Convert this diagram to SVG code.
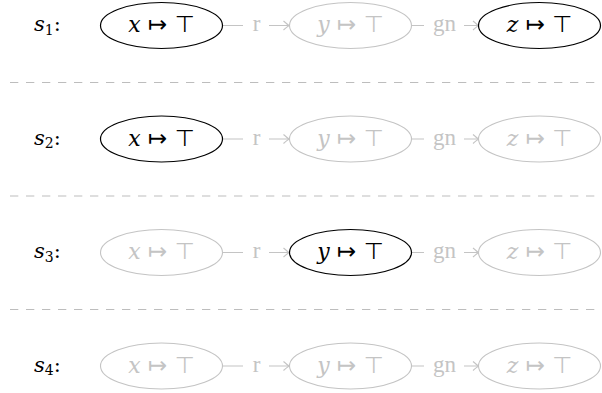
<svg xmlns="http://www.w3.org/2000/svg" width="602" height="393" viewBox="0 0 602 393">
<style>
.bg{fill:#fff}
.on{fill:#fff;stroke:#000;stroke-width:1.2}
.off{fill:#fff;stroke:#c4c4c4;stroke-width:1.1}
.t{font-family:"DejaVu Serif","Liberation Serif",serif;font-size:22px;text-anchor:middle}
.ton{fill:#000}
.toff{fill:#c4c4c4}
.sym{font-family:"DejaVu Sans","Noto Sans",sans-serif;font-style:normal;font-size:23px}
.it{font-style:italic}
.lab{font-family:"DejaVu Serif","Liberation Serif",serif;font-size:21px;fill:#000}
.edge{fill:none;stroke:#c4c4c4;stroke-width:1.1}
.el{font-family:"Liberation Serif","DejaVu Serif",serif;font-size:23px;fill:#c4c4c4;text-anchor:middle}
.dash{stroke:#bdbdbd;stroke-width:1.1;stroke-dasharray:8.3 7.7}
</style>
<defs>
<marker id="ar" viewBox="-7 -6 8 12" refX="0" refY="0" markerWidth="8" markerHeight="12" markerUnits="userSpaceOnUse" orient="auto">
<path d="M-5.5,-4.5 Q-1.5,-1 0,0 Q-1.5,1 -5.5,4.5" fill="none" stroke="#c4c4c4" stroke-width="1.1"/>
</marker>
</defs>
<rect class="bg" width="602" height="393"/>
<g id="separators">
<line class="dash" x1="10" y1="82.5" x2="602" y2="82.5"/>
<line class="dash" x1="10" y1="196" x2="602" y2="196"/>
<line class="dash" x1="10" y1="309.5" x2="602" y2="309.5"/>
</g>
<g id="labels">
<text class="lab" x="34" y="31"><tspan font-style="italic">s</tspan><tspan font-size="14" dy="3.5">1</tspan><tspan dy="-3.5">:</tspan></text>
<text class="lab" x="34" y="144.5"><tspan font-style="italic">s</tspan><tspan font-size="14" dy="3.5">2</tspan><tspan dy="-3.5">:</tspan></text>
<text class="lab" x="34" y="258"><tspan font-style="italic">s</tspan><tspan font-size="14" dy="3.5">3</tspan><tspan dy="-3.5">:</tspan></text>
<text class="lab" x="34" y="371.5"><tspan font-style="italic">s</tspan><tspan font-size="14" dy="3.5">4</tspan><tspan dy="-3.5">:</tspan></text>
</g>
<g id="connectors">
<path class="edge" d="M222.5,25.5 H243 M269,25.5 H289" marker-end="url(#ar)"/>
<path class="edge" d="M411.5,25.5 H424 M464,25.5 H478.5" marker-end="url(#ar)"/>
<path class="edge" d="M222.5,139 H243 M269,139 H289" marker-end="url(#ar)"/>
<path class="edge" d="M411.5,139 H424 M464,139 H478.5" marker-end="url(#ar)"/>
<path class="edge" d="M222.5,252.5 H243 M269,252.5 H289" marker-end="url(#ar)"/>
<path class="edge" d="M411.5,252.5 H424 M464,252.5 H478.5" marker-end="url(#ar)"/>
<path class="edge" d="M222.5,366 H243 M269,366 H289" marker-end="url(#ar)"/>
<path class="edge" d="M411.5,366 H424 M464,366 H478.5" marker-end="url(#ar)"/>
<text class="el" x="256.5" y="31">r</text>
<text class="el" x="444.5" y="31">gn</text>
<text class="el" x="256.5" y="144.5">r</text>
<text class="el" x="444.5" y="144.5">gn</text>
<text class="el" x="256.5" y="258">r</text>
<text class="el" x="444.5" y="258">gn</text>
<text class="el" x="256.5" y="371.5">r</text>
<text class="el" x="444.5" y="371.5">gn</text>
</g>
<g id="s1-x">
<ellipse class="on" cx="161.5" cy="25.5" rx="61" ry="23"/>
<text class="t ton" x="161.5" y="32"><tspan class="it">x</tspan><tspan class="sym"> ↦ ⊤</tspan></text>
</g>
<g id="s1-y">
<ellipse class="off" cx="350.5" cy="25.5" rx="61" ry="23"/>
<text class="t toff" x="350.5" y="32"><tspan class="it">y</tspan><tspan class="sym"> ↦ ⊤</tspan></text>
</g>
<g id="s1-z">
<ellipse class="on" cx="539.5" cy="25.5" rx="61" ry="23"/>
<text class="t ton" x="539.5" y="32"><tspan class="it">z</tspan><tspan class="sym"> ↦ ⊤</tspan></text>
</g>
<g id="s2-x">
<ellipse class="on" cx="161.5" cy="139" rx="61" ry="23"/>
<text class="t ton" x="161.5" y="145.5"><tspan class="it">x</tspan><tspan class="sym"> ↦ ⊤</tspan></text>
</g>
<g id="s2-y">
<ellipse class="off" cx="350.5" cy="139" rx="61" ry="23"/>
<text class="t toff" x="350.5" y="145.5"><tspan class="it">y</tspan><tspan class="sym"> ↦ ⊤</tspan></text>
</g>
<g id="s2-z">
<ellipse class="off" cx="539.5" cy="139" rx="61" ry="23"/>
<text class="t toff" x="539.5" y="145.5"><tspan class="it">z</tspan><tspan class="sym"> ↦ ⊤</tspan></text>
</g>
<g id="s3-x">
<ellipse class="off" cx="161.5" cy="252.5" rx="61" ry="23"/>
<text class="t toff" x="161.5" y="259"><tspan class="it">x</tspan><tspan class="sym"> ↦ ⊤</tspan></text>
</g>
<g id="s3-y">
<ellipse class="on" cx="350.5" cy="252.5" rx="61" ry="23"/>
<text class="t ton" x="350.5" y="259"><tspan class="it">y</tspan><tspan class="sym"> ↦ ⊤</tspan></text>
</g>
<g id="s3-z">
<ellipse class="off" cx="539.5" cy="252.5" rx="61" ry="23"/>
<text class="t toff" x="539.5" y="259"><tspan class="it">z</tspan><tspan class="sym"> ↦ ⊤</tspan></text>
</g>
<g id="s4-x">
<ellipse class="off" cx="161.5" cy="366" rx="61" ry="23"/>
<text class="t toff" x="161.5" y="372.5"><tspan class="it">x</tspan><tspan class="sym"> ↦ ⊤</tspan></text>
</g>
<g id="s4-y">
<ellipse class="off" cx="350.5" cy="366" rx="61" ry="23"/>
<text class="t toff" x="350.5" y="372.5"><tspan class="it">y</tspan><tspan class="sym"> ↦ ⊤</tspan></text>
</g>
<g id="s4-z">
<ellipse class="off" cx="539.5" cy="366" rx="61" ry="23"/>
<text class="t toff" x="539.5" y="372.5"><tspan class="it">z</tspan><tspan class="sym"> ↦ ⊤</tspan></text>
</g>
</svg>
